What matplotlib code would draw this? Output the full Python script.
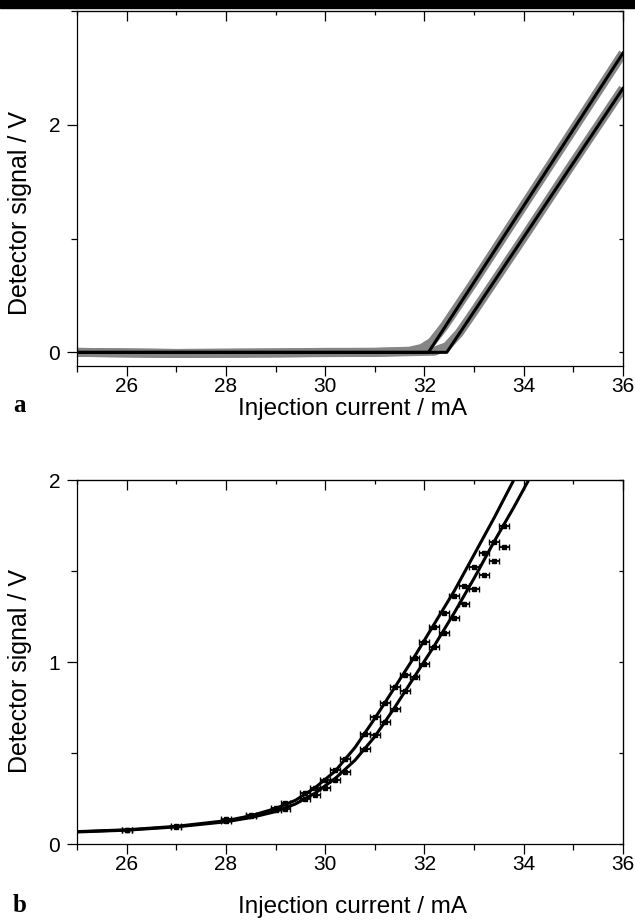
import numpy as np
import matplotlib.pyplot as plt
from matplotlib.patches import Rectangle
from matplotlib.ticker import MultipleLocator

plt.rcParams['font.family'] = ['Liberation Sans', 'DejaVu Sans']

# panel a: measured signal (grey) and piecewise linear fits (black)
a_meas1_x = [25, 26, 27, 28, 29, 30, 31, 31.7, 31.95, 32.15, 32.4, 33, 34, 35, 36]
a_meas1_y = [0.0, -0.005, -0.01, -0.008, -0.005, 0.0, 0.0, 0.01, 0.035, 0.09, 0.23, 0.62, 1.29, 1.96, 2.63]
a_meas2_x = [25, 27, 29, 31, 32.2, 32.45, 32.7, 33, 34, 35, 36]
a_meas2_y = [0.0, -0.01, -0.005, 0.0, 0.01, 0.05, 0.17, 0.36, 1.01, 1.67, 2.32]
a_fit1_x = [25, 32.08, 36]
a_fit1_y = [0.0, 0.0, 2.63]
a_fit2_x = [25, 32.45, 36]
a_fit2_y = [0.0, 0.0, 2.32]

# panel b: data points with x error bars and fitted curves
b_x = [26, 27, 28, 28.5, 29, 29.2, 29.6, 29.8, 30.0, 30.2, 30.4, 30.8, 31.0, 31.2,
       31.4, 31.6, 31.8, 32.0, 32.2, 32.4, 32.6, 32.8, 33.0, 33.2, 33.4, 33.6]
b_up_y = [0.077, 0.099, 0.135, 0.162, 0.2, 0.225, 0.278, 0.308, 0.353, 0.407, 0.465, 0.607,
          0.698, 0.773, 0.864, 0.93, 1.02, 1.11, 1.19, 1.27, 1.36, 1.42, 1.52, 1.60, 1.66, 1.75]
b_lo_y = [0.075, 0.096, 0.128, 0.152, 0.185, 0.195, 0.245, 0.269, 0.306, 0.349, 0.397, 0.521,
          0.60, 0.669, 0.742, 0.842, 0.92, 0.99, 1.08, 1.16, 1.24, 1.32, 1.40, 1.48, 1.556, 1.63]
b_xerr = 0.1

b_fit_up_x = [25, 26, 27, 28, 28.5, 29, 29.4, 29.8, 30.2, 30.6, 31.0, 31.4, 31.8, 32.2, 32.6, 33.0, 33.4, 33.8, 34.0]
b_fit_up_y = [0.068, 0.078, 0.097, 0.128, 0.155, 0.195, 0.24, 0.31, 0.40, 0.53, 0.69, 0.86, 1.03, 1.21, 1.39, 1.59, 1.79, 2.0, 2.1]
b_fit_lo_x = [25, 26, 27, 28, 28.5, 29, 29.4, 29.8, 30.2, 30.6, 31.0, 31.4, 31.8, 32.2, 32.6, 33.0, 33.4, 33.8, 34.1, 34.3]
b_fit_lo_y = [0.066, 0.076, 0.094, 0.122, 0.145, 0.178, 0.22, 0.28, 0.36, 0.46, 0.59, 0.75, 0.92, 1.09, 1.27, 1.46, 1.66, 1.85, 2.0, 2.1]

x_ticks = [26, 28, 30, 32, 34, 36]

fig = plt.figure(figsize=(6.35, 9.23), dpi=100)
fig.patches.append(Rectangle((0, 1 - 8 / 923), 1, 8 / 923, transform=fig.transFigure,
                             color='black', zorder=10))

ax1 = fig.add_axes([77 / 635, 1 - 366 / 923, 546 / 635, 355 / 923])
ax2 = fig.add_axes([77 / 635, 1 - 844 / 923, 546 / 635, 364 / 923])

# panel a
ax1.plot(a_meas1_x, a_meas1_y, color='#858585', lw=6.5, solid_capstyle='butt')
ax1.plot(a_meas2_x, a_meas2_y, color='#858585', lw=6.5, solid_capstyle='butt')
ax1.plot(a_fit1_x, a_fit1_y, color='black', lw=2.2)
ax1.plot(a_fit2_x, a_fit2_y, color='black', lw=2.2)
ax1.set_xlim(25, 36)
ax1.set_ylim(-0.12, 3.0)
ax1.set_yticks([0, 2])
ax1.yaxis.set_minor_locator(MultipleLocator(1))

# panel b
ax2.plot(b_fit_up_x, b_fit_up_y, color='black', lw=2.2)
ax2.plot(b_fit_lo_x, b_fit_lo_y, color='black', lw=2.2)
ax2.errorbar(b_x, b_up_y, xerr=b_xerr, fmt='s', ms=3.5, color='black',
             elinewidth=1.3, capsize=2, capthick=1.0)
ax2.errorbar(b_x, b_lo_y, xerr=b_xerr, fmt='s', ms=3.5, color='black',
             elinewidth=1.3, capsize=2, capthick=1.0)
ax2.set_xlim(25, 36)
ax2.set_ylim(0, 2)
ax2.set_yticks([0, 1, 2])
ax2.yaxis.set_minor_locator(MultipleLocator(0.5))

for ax, ylab_y, xlab_y in [(ax1, 0.43, -0.122), (ax2, 0.475, -0.173)]:
    ax.set_xticks(x_ticks)
    ax.xaxis.set_minor_locator(MultipleLocator(1))
    ax.tick_params(axis='both', which='major', direction='out', length=7, width=0.9,
                   labelsize=15, top=False, right=False)
    ax.tick_params(axis='both', which='minor', direction='out', length=4, width=0.9,
                   top=False, right=False)
    ax.tick_params(axis='x', which='major', pad=1)
    ax.tick_params(axis='y', which='major', pad=5)
    for sp in ax.spines.values():
        sp.set_linewidth(0.9)
    # inward ticks on top and right
    top = ax.secondary_xaxis('top')
    top.set_xticks(x_ticks)
    top.xaxis.set_minor_locator(MultipleLocator(1))
    top.tick_params(which='major', direction='in', length=7, width=0.9, labeltop=False)
    top.tick_params(which='minor', direction='in', length=3, width=0.9)
    right = ax.secondary_yaxis('right')
    right.set_yticks(ax.get_yticks())
    right.yaxis.set_minor_locator(ax.yaxis.get_minor_locator())
    right.tick_params(which='both', direction='in', length=3, width=0.9, labelright=False)
    ax.set_xlabel('Injection current / mA', fontsize=17.5, va='center')
    ax.set_ylabel('Detector signal / V', fontsize=18, va='center')
    ax.xaxis.set_label_coords(0.505, xlab_y)
    ax.yaxis.set_label_coords(-0.104, ylab_y)

fig.text(20 / 635, 1 - 406 / 923, 'a', family='Liberation Serif', fontweight='bold',
         fontsize=18, va='center', ha='center')
fig.text(20 / 635, 1 - 906 / 923, 'b', family='Liberation Serif', fontweight='bold',
         fontsize=18, va='center', ha='center')

fig.savefig('out.png', dpi=100)
